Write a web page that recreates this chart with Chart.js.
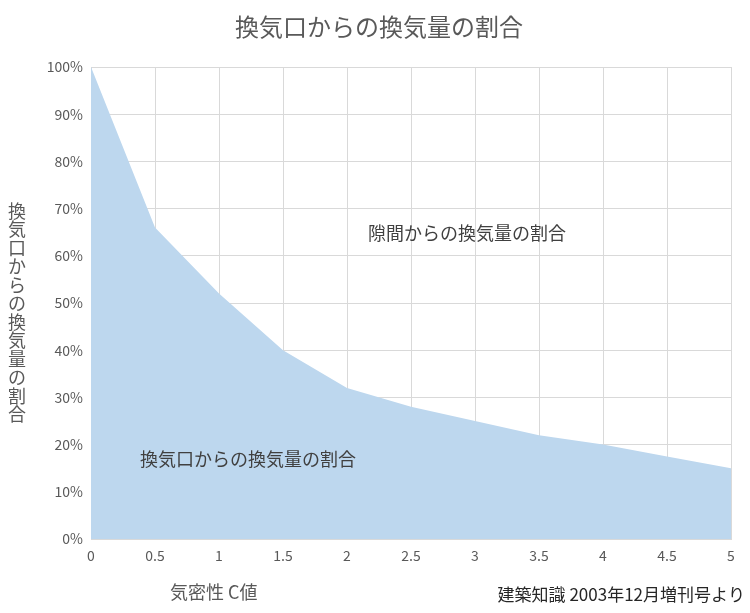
<!DOCTYPE html>
<html><head><meta charset="utf-8">
<script src="https://cdn.jsdelivr.net/npm/chart.js@4/dist/chart.umd.min.js"></script>
<style>html,body{margin:0;padding:0;background:#fff}#w{width:750px;height:613px}</style>
</head><body><div id="w"><canvas id="c"></canvas></div>
<script>
const cValues = [0,0.5,1,1.5,2,2.5,3,3.5,4,4.5,5];
const ventShare = [100,66,52,40,32,28,25,22,20,17.5,15];
const chartTitle = '換気口からの換気量の割合';
const yTitle = '換気口からの換気量の割合';
const xTitle = '気密性 C値';
const source = '建築知識 2003年12月増刊号より';
const upperLabel = '隙間からの換気量の割合';
const lowerLabel = '換気口からの換気量の割合';
const F = '"Noto Sans CJK JP","Noto Sans",sans-serif';
const textPlugin = {id:'t', afterDraw(ch){
  const c=ch.ctx; c.save(); c.fillStyle='#595959'; c.textBaseline='middle';
  c.font='24px '+F; c.textAlign='center'; c.fillText(chartTitle,379,27);
  c.font='18px '+F;
  [...yTitle].forEach((s,i)=>c.fillText(s,17,211+i*18.5));
  c.fillStyle='#404040';
  c.textAlign='left'; c.fillText(upperLabel,368,233); c.fillText(lowerLabel,140,459);
  c.fillStyle='#595959'; c.fillText(xTitle,170,592);
  c.fillStyle='#262626'; c.font='17px '+F; c.textAlign='right'; c.fillText(source,745,595);
  c.restore();
}};
new Chart(document.getElementById('c'),{
  type:'line',
  data:{datasets:[{data:cValues.map((x,i)=>({x,y:ventShare[i]})),fill:'origin',backgroundColor:'#bdd7ee',borderWidth:0,pointRadius:0,tension:0}]},
  options:{responsive:true,maintainAspectRatio:false,animation:false,
    layout:{padding:{left:0,right:19,top:67,bottom:0}},
    plugins:{legend:{display:false},tooltip:{enabled:false}},
    scales:{
      x:{type:'linear',min:0,max:5,ticks:{stepSize:0.5,padding:8,color:'#595959',font:{size:14,family:F},callback:v=>String(v)},
        grid:{color:'#d9d9d9',drawTicks:false},border:{color:'#d9d9d9'},
        afterFit(s){s.height=74;}},
      y:{min:0,max:100,ticks:{stepSize:10,color:'#595959',font:{size:14,family:F},padding:8,callback:v=>v+'%'},
        grid:{color:'#d9d9d9',drawTicks:false},border:{display:false},
        afterFit(s){s.width=91;}}
    }},
  plugins:[textPlugin]
});
</script></body></html>
